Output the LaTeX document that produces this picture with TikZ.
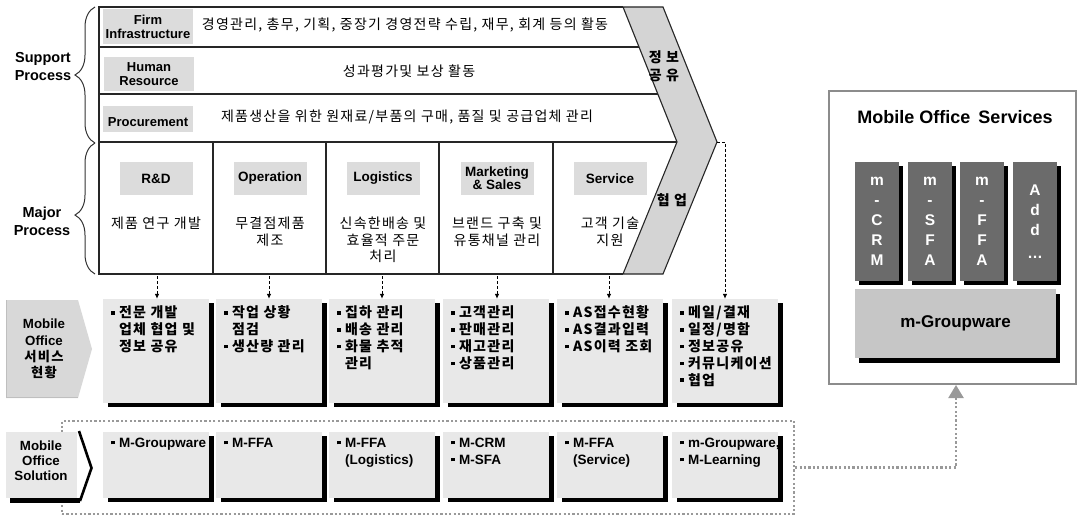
\documentclass[tikz,border=0pt]{standalone}
\usepackage{fontspec}
\setmainfont{Liberation Sans}
\newfontfamily\kr{Noto Sans CJK KR}[LetterSpace=9]
\usetikzlibrary{decorations.pathreplacing,arrows.meta,calc,shadows}
\definecolor{labgray}{HTML}{DCDCDC}
\definecolor{boxgray}{HTML}{E8E8E8}
\definecolor{chev}{HTML}{D4D4D4}
\definecolor{darkcol}{HTML}{6B6B6B}
\definecolor{mgray}{HTML}{C6C6C6}
\definecolor{bordgray}{HTML}{8C8C8C}
\definecolor{dotgray}{HTML}{999999}
\definecolor{labone}{HTML}{D8D8D8}
\newcommand\mybul{\rule[0.22em]{3.6pt}{3.6pt}\hspace{4.5pt}}
\newcommand\myind{\hphantom{\mybul}}
\begin{document}
\begin{tikzpicture}[x=1pt,y=-1pt,
 frame/.style={draw=black!85,line width=1.1pt},
 rlab/.style={fill=labgray,inner sep=0pt,minimum width=90pt,align=center,font=\fontsize{13}{14}\selectfont\bfseries},
 krrow/.style={inner sep=0pt,font=\fontsize{14}{16}\selectfont\kr},
 side/.style={inner sep=0pt,align=center,font=\fontsize{14.5}{18}\selectfont\bfseries},
 clab/.style={fill=labgray,inner sep=0pt,minimum width=73pt,minimum height=33pt,align=center,font=\fontsize{13.5}{13}\selectfont\bfseries},
 cdesc/.style={inner sep=0pt,anchor=north,align=center,font=\fontsize{14}{16.5}\selectfont\kr},
 chevtxt/.style={inner sep=0pt,align=center,font=\fontsize{14}{18}\selectfont\bfseries\kr},
 shad/.style={drop shadow={shadow xshift=5pt,shadow yshift=-4pt,opacity=1,fill=black}},
 sbox/.style={fill=boxgray,inner sep=0pt,minimum width=106pt,minimum height=104pt,shad},
 mbox/.style={fill=boxgray,inner sep=0pt,minimum width=106pt,minimum height=66pt,shad},
 btxt/.style={inner sep=0pt,anchor=north west,align=left,font=\fontsize{14}{16.8}\selectfont\bfseries\kr},
 btxtb/.style={inner sep=0pt,anchor=north west,align=left,font=\fontsize{13.5}{17}\selectfont\bfseries},
 dar/.style={draw=black,line width=0.8pt,dash pattern=on 3pt off 2pt,-{Latex[length=5pt,width=4.5pt]}},
 bracestyle/.style={draw=black!80,line width=1pt,decorate},
 mlab/.style={inner sep=0pt,align=center,font=\fontsize{13.3}{16.3}\selectfont\bfseries},
 dotline/.style={draw=dotgray,line width=2.2pt,dash pattern=on 2.2pt off 2.2pt},
 dcol/.style={fill=darkcol,inner sep=0pt,minimum width=44pt,minimum height=119pt,text=white,align=center,
   font=\fontsize{15.5}{20}\selectfont\bfseries,drop shadow={shadow xshift=4pt,shadow yshift=-4pt,opacity=1,fill=black}},
]
\useasboundingbox (0,0) rectangle (1079,516);

% ---------- main frame ----------
\draw[frame] (623,7) -- (99,7) -- (99,274) -- (623,274);
\draw[frame] (99,47) -- (639,47);
\draw[frame] (99,94) -- (658,94);
\draw[frame] (99,142) -- (677,142);
\foreach \x in {213,326,439,553} \draw[frame] (\x,142) -- (\x,274);
\draw[frame,fill=chev] (623,7) -- (663,7) -- (717,142) -- (663,274) -- (623,274) -- (677,142) -- cycle;
\node[chevtxt] (jb) at (664,66) {정 보\\공 유};
\node[chevtxt] (hu) at (672,200) {협 업};
\coordinate (tip) at (717,142);

% row labels
\node[rlab,minimum height=35pt] (fi) at (148,26.5) {Firm\\Infrastructure};
\node[rlab,minimum height=34pt] (hr) at (149,74) {Human\\Resource};
\node[rlab,minimum height=26pt] (pr) at (148,119) {};
\node[inner sep=0pt,font=\fontsize{13}{14}\selectfont\bfseries] (prt) at ($(pr.center)+(0,3.5)$) {Procurement};
\node[krrow] (r1) at (405,25) {경영관리, 총무, 기획, 중장기 경영전략 수립, 재무, 회계 등의 활동};
\node[krrow] (r2) at (409,71) {성과평가및 보상 활동};
\node[krrow] (r3) at (407,117) {제품생산을 위한 원재료/부품의 구매, 품질 및 공급업체 관리};

% braces and side labels
\draw[bracestyle,decoration={brace,amplitude=20pt,aspect=0.5}] (95,143) -- (95,7);
\draw[bracestyle,decoration={brace,amplitude=20pt,aspect=0.45}] (95,274) -- (95,143);
\node[side] (sp) at (43,67) {Support\\Process};
\node[side] (mp) at (42,221) {Major\\Process};

% column labels
\node[clab] (c1) at (156,178.5) {R\&D};
\node[clab] (c2) at (270,178.5) {Operation};
\node[clab] (c3) at (383,178.5) {Logistics};
\node[clab] (c4) at (497,178.5) {Marketing\\\& Sales};
\node[clab] (c5) at (610,178.5) {Service};
\node[cdesc] (e1) at (156,217) {제품 연구 개발};
\node[cdesc] (e2) at (270,217) {무결점제품\\제조};
\node[cdesc] (e3) at (383,217) {신속한배송 및\\효율적 주문\\처리};
\node[cdesc] (e4) at (497,217) {브랜드 구축 및\\유통채널 관리};
\node[cdesc] (e5) at (610,217) {고객 기술\\지원};
\coordinate (k1) at (157,276);
\coordinate (k2) at (269,276);
\coordinate (k3) at (382,276);
\coordinate (k4) at (497,276);
\coordinate (k5) at (609,276);

% ---------- dotted solution frame ----------
\node[dotline,inner sep=0pt,minimum width=732pt,minimum height=93pt] (solfr) at (428,467.5) {};

% ---------- service boxes ----------
\node[sbox] (s1) at (156,351) {};
\node[sbox] (s2) at (269,351) {};
\node[sbox] (s3) at (382,351) {};
\node[sbox] (s4) at (496,351) {};
\node[sbox] (s5) at (610,351) {};
\node[sbox] (s6) at (725,351) {};
\node[btxt] at ($(s1.north west)+(8,7)$) {\mybul 전문 개발\\\myind 업체 협업 및\\\myind 정보 공유};
\node[btxt] at ($(s2.north west)+(8,7)$) {\mybul 작업 상황\\\myind 점검\\\mybul 생산량 관리};
\node[btxt] at ($(s3.north west)+(8,7)$) {\mybul 집하 관리\\\mybul 배송 관리\\\mybul 화물 추적\\\myind 관리};
\node[btxt] at ($(s4.north west)+(8,7)$) {\mybul 고객관리\\\mybul 판매관리\\\mybul 재고관리\\\mybul 상품관리};
\node[btxt] at ($(s5.north west)+(8,7)$) {\mybul AS접수현황\\\mybul AS결과입력\\\mybul AS이력 조회};
\node[btxt] at ($(s6.north west)+(8,7)$) {\mybul 메일/결재\\\mybul 일정/명함\\\mybul 정보공유\\\mybul 커뮤니케이션\\\mybul 협업};

\draw[dar] (k1) -- (k1 |- s1.north);
\draw[dar] (k2) -- (k2 |- s2.north);
\draw[dar] (k3) -- (k3 |- s3.north);
\draw[dar] (k4) -- (k4 |- s4.north);
\draw[dar] (k5) -- (k5 |- s5.north);
\draw[dar] (tip) -| (s6.north);

% ---------- solution boxes ----------
\node[mbox] (m1) at (156,465) {};
\node[mbox] (m2) at (269,465) {};
\node[mbox] (m3) at (382,465) {};
\node[mbox] (m4) at (496,465) {};
\node[mbox] (m5) at (610,465) {};
\node[mbox] (m6) at (725,465) {};
\node[btxtb] at ($(m1.north west)+(8,6)$) {\mybul M-Groupware};
\node[btxtb] at ($(m2.north west)+(8,6)$) {\mybul M-FFA};
\node[btxtb] at ($(m3.north west)+(8,6)$) {\mybul M-FFA\\\myind (Logistics)};
\node[btxtb] at ($(m4.north west)+(8,6)$) {\mybul M-CRM\\\mybul M-SFA};
\node[btxtb] at ($(m5.north west)+(8,6)$) {\mybul M-FFA\\\myind (Service)};
\node[btxtb] at ($(m6.north west)+(8,6)$) {\mybul m-Groupware,\\\mybul M-Learning};

% ---------- left row labels ----------
\fill[labone] (6,300) -- (78,300) -- (92,349) -- (78,398) -- (6,398) -- cycle;
\draw[black!25,line width=1pt] (6.5,300) -- (6.5,397.5) -- (78,397.5);
\node[mlab] (l1) at (44,349) {Mobile\\Office\\{\kr 서비스}\\{\kr 현황}};
\fill[boxgray] (6,432) rectangle (77,498);
\fill[black] (10,498) rectangle (80,503);
\draw[black,line width=2.6pt,line join=miter] (79,431) -- (91.5,468) -- (80,501);
\node[mlab,font=\fontsize{13.3}{15}\selectfont\bfseries] (l2) at (41,461) {Mobile\\Office\\Solution};

% ---------- right services box ----------
\node[draw=bordgray,line width=2pt,inner sep=0pt,minimum width=247pt,minimum height=293pt] (mos) at (952.5,237.5) {};
\node[inner sep=0pt,font=\fontsize{18}{18}\selectfont\bfseries] (mt) at (955,117) {Mobile Office\hspace{8pt}Services};
\node[dcol] (d1) at (877,221.5) {m\\-\\C\\R\\M};
\node[dcol] (d2) at (930,221.5) {m\\-\\S\\F\\A};
\node[dcol] (d3) at (982,221.5) {m\\-\\F\\F\\A};
\node[dcol] (d4) at (1035,221.5) {A\\d\\d\\\raisebox{-3pt}{…}};
\node[fill=mgray,inner sep=0pt,minimum width=201pt,minimum height=69pt,
  drop shadow={shadow xshift=4pt,shadow yshift=-5pt,opacity=1,fill=black},
  font=\fontsize{17}{17}\selectfont\bfseries] (mg) at (955.5,323.5) {m-Groupware};

\draw[dotline,-{Triangle[length=13pt,width=15pt]}] (solfr.east) -| ([xshift=3.5pt]mos.south);
\end{tikzpicture}
\end{document}
